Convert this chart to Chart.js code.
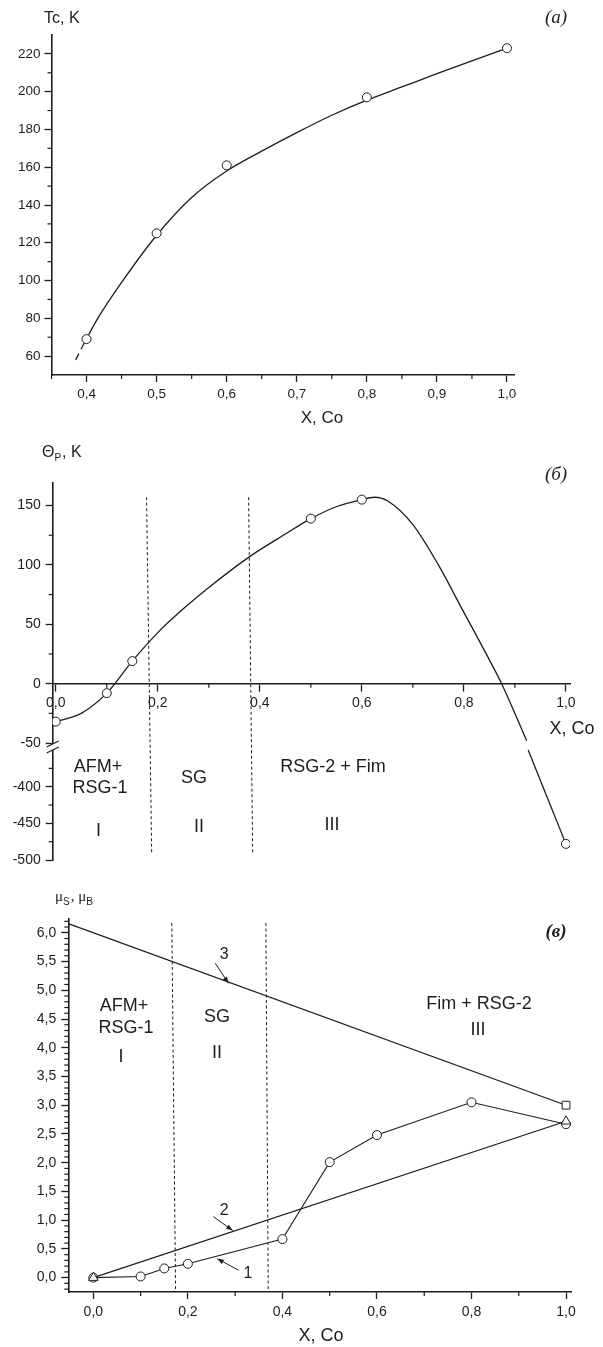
<!DOCTYPE html>
<html>
<head>
<meta charset="utf-8">
<script src="https://cdn.jsdelivr.net/npm/chart.js@4.4.1/dist/chart.umd.min.js"></script>
<style>
    html, body { margin: 0; padding: 0; background: #fff; }
    #page { position: relative; width: 603px; height: 1347px; overflow: hidden; background: #fff; }
    canvas { position: absolute; left: 0; }
</style>
</head>
<body>
<div id="page">
    <canvas id="panelA" width="603" height="440" style="top:0px"></canvas>
    <canvas id="panelB" width="603" height="440" style="top:440px"></canvas>
    <canvas id="panelC" width="603" height="467" style="top:880px"></canvas>
</div>
<script>
// (a) Tc vs x
const tcX = [0.4, 0.5, 0.6, 0.8, 1.0];
const tcY = [69, 125, 161, 197, 223];
const tcFitX = [0.394, 0.416, 0.45, 0.5, 0.55, 0.6, 0.65, 0.7, 0.75, 0.8, 0.85, 0.9, 0.95, 1.0];
const tcFitY = [65, 80, 99, 124, 144, 158, 168.5, 178.3, 187.5, 195.5, 202.5, 209.5, 216.3, 223];
const tcTailX = [0.3845, 0.394];
const tcTailY = [58, 65];
const tcTicksX = [0.4, 0.5, 0.6, 0.7, 0.8, 0.9, 1.0];
const tcTicksY = [60, 80, 100, 120, 140, 160, 180, 200, 220];

// (б) Θp vs x
const thX = [0, 0.1, 0.15, 0.5, 0.6];
const thY = [-32, -8, 19, 139, 155];
const thFitX = [0, 0.05, 0.1, 0.15, 0.2, 0.25, 0.3, 0.38, 0.45, 0.5, 0.55, 0.6, 0.625, 0.65, 0.7, 0.75, 0.8, 0.85, 0.874, 0.923];
const thFitY = [-32, -25, -8, 19, 43, 63, 81, 107, 126, 139, 149, 155, 157, 154, 134, 100, 60, 20, 0, -48];
const thLowX = [0.926, 1.0];
const thLowY = [-350, -478];
const thTicksX = [0, 0.2, 0.4, 0.6, 0.8, 1.0];
const thTicksY = [-50, 0, 50, 100, 150];
const thTicksLow = [-500, -450, -400];
const thZoneTopX = [0.178, 0.378];
const thZoneBottomX = [0.188, 0.386];

// (в) magnetic moments vs x
const muX = [0, 0.1, 0.15, 0.2, 0.4, 0.5, 0.6, 0.8, 1.0];
const muS = [0, 0.02, 0.16, 0.24, 0.67, 2.01, 2.48, 3.05, 2.67];
const mu2X = [0, 1.0];
const mu2Y = [0, 2.72];
const mu3X = [-0.053, 1.0];
const mu3Y = [6.16, 3.0];
const muTicksX = [0, 0.2, 0.4, 0.6, 0.8, 1.0];
const muTicksY = [0, 0.5, 1, 1.5, 2, 2.5, 3, 3.5, 4, 4.5, 5, 5.5, 6];
const muZoneTopX = [0.166, 0.365];
const muZoneBottomX = [0.174, 0.370];
const arrowLabels = ["1", "2", "3"];
const arrowTailX = [0.307, 0.254, 0.258];
const arrowTailY = [0.13, 1.06, 5.47];
const arrowHeadX = [0.262, 0.295, 0.286];
const arrowHeadY = [0.33, 0.82, 5.12];
const arrowTextX = [0.327, 0.277, 0.277];
const arrowTextY = [0.07, 1.16, 5.62];

const INK = "#1d1d1d";
const SANS = "'Liberation Sans', Arial, sans-serif";
const SERIF = "'Liberation Serif', 'Times New Roman', serif";

function pts(xs, ys) {
    return xs.map((x, i) => ({ x: x, y: ys[i] }));
}

function comma(v) {
    return v.toFixed(1).replace(".", ",");
}

// tick positions between the labelled ones
function minors(from, to, step, majors) {
    const out = [];
    const n = Math.round((to - from) / step);
    for (let i = 0; i <= n; i++) {
        const v = Math.round((from + i * step) * 1000) / 1000;
        if (!majors.some((m) => Math.abs(m - v) < 1e-6)) out.push(v);
    }
    return out;
}

function axis(o) {
    return {
        type: "linear",
        axis: o.axis,
        min: o.min,
        max: o.max,
        position: o.position,
        stack: o.stack,
        stackWeight: o.stackWeight,
        weight: o.weight || 0,
        afterFit: o.fit,
        afterBuildTicks: (s) => {
            s.ticks = o.ticks.map((v) => ({ value: v }));
        },
        grid: {
            drawOnChartArea: false,
            drawTicks: true,
            tickLength: 7,
            tickWidth: 1.3,
            tickColor: INK,
        },
        border: { display: true, color: INK, width: 1.6 },
        ticks: {
            color: INK,
            padding: o.padding || 5,
            autoSkip: false,
            maxRotation: 0,
            font: { family: SANS, size: o.size || 14 },
            callback: o.label,
        },
    };
}

const panelText = {
    id: "panelText",
    afterDraw(chart, args, opts) {
        const ctx = chart.ctx;
        ctx.save();
        ctx.fillStyle = INK;
        ctx.textBaseline = "middle";
        (opts.items || []).forEach((t) => {
            if (t.parts) {
                ctx.textAlign = "left";
                let x = t.x;
                t.parts.forEach((p) => {
                    ctx.font = p.sub ? t.subFont : t.font;
                    ctx.fillText(p.t, x, t.y + (p.sub ? 5 : 0));
                    x += ctx.measureText(p.t).width + (p.sub ? 1 : 0);
                });
            } else {
                ctx.font = t.font;
                ctx.textAlign = t.align || "center";
                ctx.fillText(t.text, t.x, t.y);
            }
        });
        ctx.restore();
    },
};

const minorTicks = {
    id: "minorTicks",
    afterDraw(chart, args, opts) {
        const ctx = chart.ctx;
        ctx.save();
        ctx.strokeStyle = INK;
        ctx.lineWidth = 1.2;
        (opts.items || []).forEach((it) => {
            const s = chart.scales[it.scale];
            it.values.forEach((v) => {
                const p = s.getPixelForValue(v);
                ctx.beginPath();
                if (s.isHorizontal()) {
                    const y0 = it.atY !== undefined ? chart.scales.y.getPixelForValue(it.atY) : chart.chartArea.bottom;
                    ctx.moveTo(p, y0);
                    ctx.lineTo(p, y0 + it.len);
                } else {
                    ctx.moveTo(s.right, p);
                    ctx.lineTo(s.right - it.len, p);
                }
                ctx.stroke();
            });
        });
        ctx.restore();
    },
};

// dashed phase boundaries
const guides = {
    id: "guides",
    beforeDatasetsDraw(chart, args, o) {
        const ctx = chart.ctx;
        const sx = chart.scales.x;
        const top = chart.scales[o.topAxis];
        const bot = chart.scales[o.bottomAxis];
        ctx.save();
        ctx.strokeStyle = INK;
        ctx.lineWidth = 1;
        ctx.setLineDash([3, 2.5]);
        o.topX.forEach((tx, i) => {
            ctx.beginPath();
            ctx.moveTo(sx.getPixelForValue(tx), top.getPixelForValue(o.topY));
            ctx.lineTo(sx.getPixelForValue(o.bottomX[i]), bot.getPixelForValue(o.bottomY));
            ctx.stroke();
        });
        ctx.restore();
    },
};

// axis break marks on the Θ axis
const axisBreak = {
    id: "axisBreak",
    afterDraw(chart) {
        const ctx = chart.ctx;
        const x = chart.chartArea.left;
        const yb = chart.scales.y.bottom;
        ctx.save();
        ctx.fillStyle = "#fff";
        ctx.beginPath();
        ctx.moveTo(x - 6, yb + 1);
        ctx.lineTo(x + 6, yb - 5);
        ctx.lineTo(x + 6, yb + 1);
        ctx.lineTo(x - 6, yb + 7);
        ctx.closePath();
        ctx.fill();
        ctx.strokeStyle = INK;
        ctx.lineWidth = 1.3;
        ctx.beginPath();
        ctx.moveTo(x - 6, yb + 1);
        ctx.lineTo(x + 6, yb - 5);
        ctx.moveTo(x - 6, yb + 7);
        ctx.lineTo(x + 6, yb + 1);
        ctx.stroke();
        ctx.restore();
    },
};

const arrows = {
    id: "arrows",
    afterDatasetsDraw(chart) {
        const ctx = chart.ctx;
        const sx = chart.scales.x;
        const sy = chart.scales.y;
        ctx.save();
        ctx.strokeStyle = INK;
        ctx.fillStyle = INK;
        ctx.lineWidth = 1;
        arrowLabels.forEach((lab, i) => {
            const x1 = sx.getPixelForValue(arrowTailX[i]);
            const y1 = sy.getPixelForValue(arrowTailY[i]);
            const x2 = sx.getPixelForValue(arrowHeadX[i]);
            const y2 = sy.getPixelForValue(arrowHeadY[i]);
            const a = Math.atan2(y2 - y1, x2 - x1);
            ctx.beginPath();
            ctx.moveTo(x1, y1);
            ctx.lineTo(x2, y2);
            ctx.stroke();
            ctx.beginPath();
            ctx.moveTo(x2, y2);
            ctx.lineTo(x2 - 7 * Math.cos(a - 0.35), y2 - 7 * Math.sin(a - 0.35));
            ctx.lineTo(x2 - 7 * Math.cos(a + 0.35), y2 - 7 * Math.sin(a + 0.35));
            ctx.closePath();
            ctx.fill();
            ctx.font = "16px " + SANS;
            ctx.textAlign = "center";
            ctx.textBaseline = "middle";
            ctx.fillText(lab, sx.getPixelForValue(arrowTextX[i]), sy.getPixelForValue(arrowTextY[i]));
        });
        ctx.restore();
    },
};

const baseOptions = {
    responsive: false,
    animation: false,
    events: [],
};

function circles(data, yAxisID) {
    return {
        data: data,
        yAxisID: yAxisID || "y",
        showLine: false,
        pointStyle: "circle",
        pointRadius: 4.5,
        pointBackgroundColor: "#fff",
        pointBorderColor: INK,
        pointBorderWidth: 1,
        order: 0,
    };
}

function curve(data, yAxisID, dash) {
    return {
        data: data,
        yAxisID: yAxisID || "y",
        showLine: true,
        pointRadius: 0,
        borderColor: INK,
        borderWidth: 1.3,
        borderDash: dash || [],
        cubicInterpolationMode: "monotone",
        order: 2,
    };
}

// ---------- panel (a)
new Chart(document.getElementById("panelA"), {
    type: "scatter",
    data: {
        datasets: [
            curve(pts(tcFitX, tcFitY)),
            curve(pts(tcTailX, tcTailY), "y", [7, 5]),
            circles(pts(tcX, tcY)),
        ],
    },
    options: {
        ...baseOptions,
        layout: { padding: { top: 35, right: 89, bottom: 35, left: 0 } },
        plugins: {
            legend: { display: false },
            tooltip: { enabled: false },
            minorTicks: {
                items: [
                    { scale: "x", values: minors(0.35, 0.95, 0.1, []), len: 4 },
                    { scale: "y", values: minors(70, 210, 20, []), len: 4 },
                ],
            },
            panelText: {
                items: [
                    { text: "Tc, K", x: 44, y: 19, font: "16px " + SANS, align: "left" },
                    { text: "(a)", x: 556, y: 18, font: "italic 19px " + SERIF },
                    { text: "X, Co", x: 322, y: 418, font: "17px " + SANS },
                ],
            },
        },
        scales: {
            x: axis({
                min: 0.35, max: 1.01, position: "bottom", ticks: tcTicksX, size: 13.5,
                label: (v) => comma(v), fit: (s) => { s.height = 30; }, padding: 4,
            }),
            y: axis({
                min: 50, max: 230, position: "left", ticks: tcTicksY, size: 13.5,
                label: (v) => String(v), fit: (s) => { s.width = 51.5; }, padding: 4,
            }),
        },
    },
    plugins: [panelText, minorTicks],
});

// ---------- panel (б)
new Chart(document.getElementById("panelB"), {
    type: "scatter",
    data: {
        datasets: [
            curve(pts(thFitX, thFitY), "y"),
            curve(pts(thLowX, thLowY), "y2"),
            circles(pts(thX, thY), "y"),
            circles(pts([thLowX[1]], [thLowY[1]]), "y2"),
        ],
    },
    options: {
        ...baseOptions,
        layout: { padding: { top: 43, right: 33, bottom: 20, left: 0 } },
        plugins: {
            legend: { display: false },
            tooltip: { enabled: false },
            guides: {
                topX: thZoneTopX, bottomX: thZoneBottomX,
                topAxis: "y", topY: 157, bottomAxis: "y2", bottomY: -490,
            },
            minorTicks: {
                items: [
                    { scale: "x", values: [0.1, 0.3, 0.5, 0.7, 0.9], len: 4, atY: 0 },
                    { scale: "y", values: [125, 75, 25, -25], len: 4 },
                    { scale: "y2", values: [-475, -425, -375], len: 4 },
                ],
            },
            panelText: {
                items: [
                    {
                        x: 42, y: 13, font: "16px " + SANS, subFont: "10px " + SANS,
                        parts: [{ t: "Θ" }, { t: "P", sub: true }, { t: ", K" }],
                    },
                    { text: "(б)", x: 556, y: 35, font: "italic 19px " + SERIF },
                    { text: "X, Co", x: 572, y: 289, font: "18px " + SANS },
                    { text: "AFM+", x: 98, y: 327, font: "18px " + SANS },
                    { text: "RSG-1", x: 100, y: 348.5, font: "18px " + SANS },
                    { text: "I", x: 98.5, y: 391, font: "18px " + SANS },
                    { text: "SG", x: 194, y: 338, font: "18px " + SANS },
                    { text: "II", x: 199, y: 387, font: "18px " + SANS },
                    { text: "RSG-2 + Fim", x: 333, y: 327, font: "18px " + SANS },
                    { text: "III", x: 332, y: 385.5, font: "18px " + SANS },
                ],
            },
        },
        scales: {
            x: axis({
                min: -0.006, max: 1.008, position: { y: 0 }, ticks: thTicksX,
                label: (v) => comma(v), fit: (s) => { s.height = 0; }, padding: 4,
            }),
            y: axis({
                axis: "y", min: -52.5, max: 169, position: "left", stack: "theta", stackWeight: 263, weight: 1,
                ticks: thTicksY, label: (v) => String(v), fit: (s) => { s.width = 52.7; },
            }),
            y2: axis({
                axis: "y", min: -500, max: -344.5, position: "left", stack: "theta", stackWeight: 114, weight: 0,
                ticks: thTicksLow, label: (v) => String(v), fit: (s) => { s.width = 52.7; },
            }),
        },
    },
    plugins: [panelText, minorTicks, guides, axisBreak],
});

// ---------- panel (в)
new Chart(document.getElementById("panelC"), {
    type: "scatter",
    data: {
        datasets: [
            {
                data: pts(mu3X, mu3Y),
                showLine: true,
                borderColor: INK,
                borderWidth: 1.2,
                pointStyle: "rect",
                pointRadius: [0, 5.5],
                pointBackgroundColor: "#fff",
                pointBorderColor: INK,
                pointBorderWidth: 1,
                order: 0,
            },
            {
                data: pts(mu2X, mu2Y),
                showLine: true,
                borderColor: INK,
                borderWidth: 1.2,
                pointStyle: "triangle",
                pointRadius: 5.5,
                pointBackgroundColor: "#fff",
                pointBorderColor: INK,
                pointBorderWidth: 1,
                order: 1,
            },
            {
                data: pts(muX, muS),
                showLine: true,
                borderColor: INK,
                borderWidth: 1.1,
                pointStyle: "circle",
                pointRadius: 4.5,
                pointBackgroundColor: "#fff",
                pointBorderColor: INK,
                pointBorderWidth: 1,
                order: 2,
            },
        ],
    },
    options: {
        ...baseOptions,
        layout: { padding: { top: 39, right: 31.3, bottom: 27, left: 0 } },
        plugins: {
            legend: { display: false },
            tooltip: { enabled: false },
            guides: {
                topX: muZoneTopX, bottomX: muZoneBottomX,
                topAxis: "y", topY: 6.17, bottomAxis: "y", bottomY: -0.25,
            },
            minorTicks: {
                items: [
                    { scale: "x", values: [0.1, 0.3, 0.5, 0.7, 0.9], len: 4 },
                    { scale: "y", values: minors(-0.2, 6.2, 0.1, muTicksY), len: 4 },
                ],
            },
            panelText: {
                items: [
                    {
                        x: 55, y: 17, font: "15px " + SERIF, subFont: "10px " + SANS,
                        parts: [{ t: "μ" }, { t: "S", sub: true }, { t: ", μ" }, { t: "B", sub: true }],
                    },
                    { text: "(в)", x: 556, y: 52, font: "bold italic 19px " + SERIF },
                    { text: "AFM+", x: 124, y: 126.5, font: "18px " + SANS },
                    { text: "RSG-1", x: 126, y: 148.3, font: "18px " + SANS },
                    { text: "I", x: 121, y: 177, font: "18px " + SANS },
                    { text: "SG", x: 217, y: 137, font: "18px " + SANS },
                    { text: "II", x: 217, y: 172.6, font: "18px " + SANS },
                    { text: "Fim + RSG-2", x: 479, y: 124.5, font: "18px " + SANS },
                    { text: "III", x: 478, y: 150, font: "18px " + SANS },
                    { text: "X, Co", x: 321, y: 456, font: "18px " + SANS },
                ],
            },
        },
        scales: {
            x: axis({
                min: -0.053, max: 1.012, position: "bottom", ticks: muTicksX,
                label: (v) => comma(v), fit: (s) => { s.height = 28; },
            }),
            y: axis({
                min: -0.25, max: 6.24, position: "left", ticks: muTicksY,
                label: (v) => comma(v), fit: (s) => { s.width = 68.3; }, padding: 5,
            }),
        },
    },
    plugins: [panelText, minorTicks, guides, arrows],
});
</script>
</body>
</html>
